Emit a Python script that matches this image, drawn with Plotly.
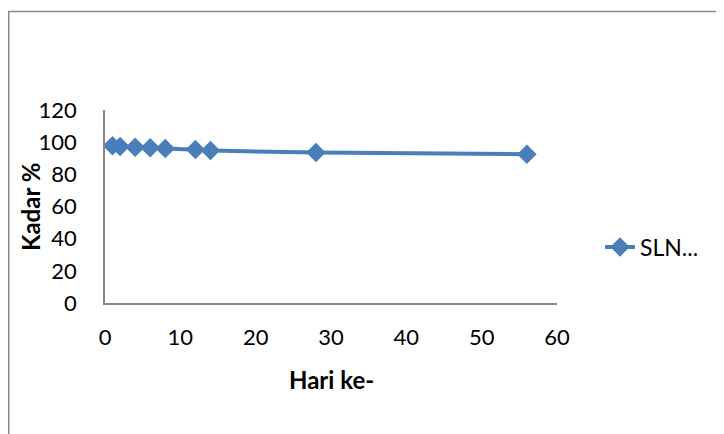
import plotly.graph_objects as go

hari = [1, 2, 4, 6, 8, 12, 14, 28, 56]
kadar = [97.8, 97.3, 96.8, 96.5, 96.0, 95.5, 94.8, 93.5, 92.5]
series_name = "SLN..."
x_ticks = [0, 10, 20, 30, 40, 50, 60]
y_ticks = [0, 20, 40, 60, 80, 100, 120]

blue = "#4A7EBB"
axis_gray = "#868686"
font = "Lato"

# page has an 8px body margin; figure coordinates = page coordinates - 8
W, H = 716, 426
L, R, T, B = 97, 549, 102, 295  # plot area edges in figure px
pw, ph = R - L, B - T


def px_x(x):
    return (x - L) / pw


def px_y(y):
    return (B - y) / ph


fig = go.Figure()
fig.add_trace(go.Scatter(
    x=hari, y=kadar, name=series_name, mode="lines+markers",
    line=dict(color=blue, width=4),
    marker=dict(symbol="diamond", size=15, color=blue),
))

fig.update_layout(
    width=W, height=H,
    margin=dict(l=L, r=W - R, t=T, b=H - B, autoexpand=False),
    paper_bgcolor="white", plot_bgcolor="white",
    font=dict(family=font, size=22, color="black"),
    showlegend=True,
    legend=dict(x=px_x(592), y=px_y(239), xanchor="left", yanchor="middle",
                font=dict(family=font, size=23, color="black"),
                bgcolor="rgba(0,0,0,0)"),
    xaxis=dict(range=[0, 60], tickvals=x_ticks, showgrid=False, zeroline=False,
               showline=True, linecolor=axis_gray, linewidth=1.5,
               ticks="", ticklabelstandoff=14, automargin=False,
               tickfont=dict(family=font, size=22)),
    yaxis=dict(range=[0, 120], tickvals=y_ticks, showgrid=False, zeroline=False,
               showline=True, linecolor=axis_gray, linewidth=1.5,
               ticks="", ticklabelstandoff=22, automargin=False,
               tickfont=dict(family=font, size=22)),
    annotations=[
        dict(text="<b>Hari ke-</b>", xref="paper", yref="paper",
             x=px_x(323.5), y=px_y(371), xanchor="center", yanchor="middle",
             showarrow=False, font=dict(family=font, size=24)),
        dict(text="<b>Kadar %</b>", xref="paper", yref="paper",
             x=px_x(22), y=px_y(199), xanchor="center", yanchor="middle",
             showarrow=False, textangle=-90, font=dict(family=font, size=24)),
    ],
    shapes=[
        dict(type="rect", xref="paper", yref="paper",
             x0=px_x(0.75), x1=px_x(W + 50), y0=px_y(H + 50), y1=px_y(3.5),
             line=dict(color="#888888", width=1.5), fillcolor="rgba(0,0,0,0)",
             layer="below"),
    ],
)

fig.write_html("out.html")
